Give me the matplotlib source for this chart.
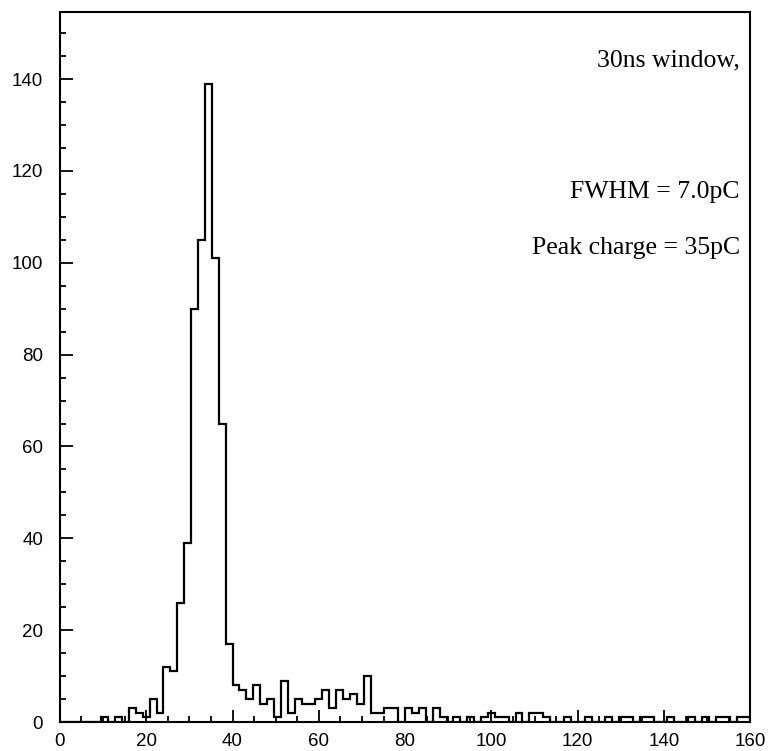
import numpy as np
import matplotlib
matplotlib.use("Agg")
import matplotlib.pyplot as plt
from matplotlib.ticker import MultipleLocator

# histogram: 100 bins over 0-160 pC
BIN_LO, BIN_HI, N_BINS = 0.0, 160.0, 100
counts = [
    0, 0, 0, 0, 0, 0, 1, 0, 1, 0,          # 0 - 16
    3, 2, 1, 5, 2, 12, 11, 26, 39, 90,     # 16 - 32
    105, 139, 101, 65, 17, 8, 7, 5, 8, 4,  # 32 - 48
    5, 1, 9, 2, 5, 4, 4, 5, 7, 3,          # 48 - 64
    7, 5, 6, 4, 10, 2, 2, 3, 3, 0,         # 64 - 80
    3, 2, 3, 0, 3, 1, 0, 1, 0, 1,          # 80 - 96
    0, 1, 2, 1, 1, 0, 2, 0, 2, 2,          # 96 - 112
    1, 0, 0, 1, 0, 0, 1, 0, 0, 1,          # 112 - 128
    0, 1, 1, 0, 1, 1, 0, 0, 1, 0,          # 128 - 144
    0, 1, 0, 1, 0, 1, 1, 0, 1, 1,          # 144 - 160
]

x_ticks = [0, 20, 40, 60, 80, 100, 120, 140, 160]
y_ticks = [0, 20, 40, 60, 80, 100, 120, 140]

notes = ["30ns window,", "FWHM = 7.0pC", "Peak charge = 35pC"]
note_y = [0.932, 0.746, 0.668]

plt.rcParams.update({
    "font.family": "Liberation Sans", "font.size": 13.5,
    "axes.linewidth": 1.5,
})

fig = plt.figure(figsize=(7.68, 7.51), dpi=100)
ax = fig.add_axes([0.078, 0.0386, 0.899, 0.9454])

edges = np.linspace(BIN_LO, BIN_HI, N_BINS + 1)
ax.stairs(counts, edges, color="black", linewidth=1.6, baseline=0)

ax.set_xlim(0, 160)
ax.set_ylim(0, 154.6)
ax.set_xticks(x_ticks)
ax.set_yticks(y_ticks)
ax.xaxis.set_minor_locator(MultipleLocator(5))
ax.yaxis.set_minor_locator(MultipleLocator(5))
ax.tick_params(which="both", direction="in", top=False, right=False, width=1.3)
ax.tick_params(which="major", length=9)
ax.tick_params(which="minor", length=4.5)
ax.tick_params(axis="y", which="major", pad=12)
ax.tick_params(axis="x", which="major", pad=8)

for txt, yy in zip(notes, note_y):
    ax.text(0.985, yy, txt, transform=ax.transAxes, ha="right", va="center",
            family="Liberation Serif", fontsize=18.5)

fig.savefig("out.png", dpi=100, facecolor="white")
